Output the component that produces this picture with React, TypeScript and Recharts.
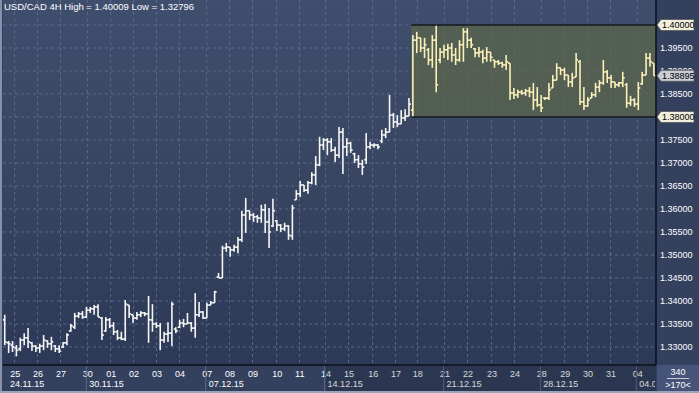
import React from "react";
import {
  ComposedChart, Bar, XAxis, YAxis, CartesianGrid, ReferenceArea, ReferenceLine,
} from "recharts";

// USD/CAD 4H bars, 24.11.15 - 04.01.16
const highs = [
  1.3370, 1.3313, 1.3313, 1.3304, 1.3320, 1.3330, 1.3341, 1.3311, 1.3304, 1.3307,
  1.3326, 1.3315, 1.3322, 1.3304, 1.3304, 1.3311, 1.3330, 1.3350, 1.3374, 1.3376,
  1.3378, 1.3387, 1.3387, 1.3391, 1.3393, 1.3365, 1.3365, 1.3363, 1.3354, 1.3337,
  1.3333, 1.3402, 1.3391, 1.3370, 1.3376, 1.3378, 1.3376, 1.3411, 1.3393, 1.3354,
  1.3352, 1.3333, 1.3354, 1.3398, 1.3343, 1.3359, 1.3361, 1.3374, 1.3354, 1.3417,
  1.3398, 1.3378, 1.3396, 1.3400, 1.3422, 1.3461, 1.3520, 1.3526, 1.3517, 1.3522,
  1.3539, 1.3596, 1.3624, 1.3596, 1.3591, 1.3587, 1.3609, 1.3611, 1.3602, 1.3622,
  1.3576, 1.3567, 1.3570, 1.3565, 1.3609, 1.3641, 1.3661, 1.3652, 1.3661, 1.3680,
  1.3715, 1.3757, 1.3754, 1.3754, 1.3754, 1.3735, 1.3778, 1.3776, 1.3754, 1.3746,
  1.3722, 1.3717, 1.3707, 1.3765, 1.3746, 1.3743, 1.3741, 1.3772, 1.3776, 1.3848,
  1.3809, 1.3804, 1.3815, 1.3817, 1.3841, 1.3978, 1.3985, 1.3972, 1.3972, 1.3950,
  1.3978, 1.40009, 1.3950, 1.3957, 1.3959, 1.3961, 1.3950, 1.3967, 1.3993, 1.3993,
  1.3972, 1.3950, 1.3952, 1.3946, 1.3952, 1.3941, 1.3924, 1.3924, 1.3920, 1.3935,
  1.3917, 1.3863, 1.3859, 1.3859, 1.3861, 1.3865, 1.3874, 1.3865, 1.3848, 1.3843,
  1.3874, 1.3891, 1.3917, 1.3907, 1.3907, 1.3891, 1.3896, 1.3939, 1.3924, 1.3865,
  1.3843, 1.3854, 1.3874, 1.3880, 1.3924, 1.3902, 1.3891, 1.3876, 1.3876, 1.3898,
  1.3874, 1.3846, 1.3841, 1.3876, 1.3898, 1.3939, 1.3939, 1.3917,
];
const lows = [
  1.3304, 1.3287, 1.3289, 1.32796, 1.3291, 1.3304, 1.3298, 1.3291, 1.3289, 1.3287,
  1.3293, 1.3298, 1.3293, 1.3289, 1.3287, 1.3298, 1.3304, 1.3333, 1.3339, 1.3363,
  1.3361, 1.3363, 1.3374, 1.3370, 1.3365, 1.3315, 1.3333, 1.3341, 1.3326, 1.3315,
  1.3315, 1.3313, 1.3363, 1.3352, 1.3359, 1.3365, 1.3367, 1.3309, 1.3333, 1.3341,
  1.3293, 1.3309, 1.3311, 1.3302, 1.3330, 1.3341, 1.3343, 1.3350, 1.3333, 1.3320,
  1.3365, 1.3361, 1.3363, 1.3391, 1.3396, 1.3450, 1.3450, 1.3507, 1.3496, 1.3507,
  1.3504, 1.3528, 1.3548, 1.3576, 1.3572, 1.3570, 1.3570, 1.3548, 1.3515, 1.3561,
  1.3552, 1.3550, 1.3552, 1.3533, 1.3533, 1.3620, 1.3626, 1.3637, 1.3633, 1.3654,
  1.3652, 1.3693, 1.3728, 1.3717, 1.3724, 1.3702, 1.3711, 1.3676, 1.3715, 1.3722,
  1.3700, 1.3689, 1.3674, 1.3698, 1.3730, 1.3733, 1.3730, 1.3743, 1.3754, 1.3767,
  1.3776, 1.3778, 1.3785, 1.3791, 1.3802, 1.3800, 1.3939, 1.3941, 1.3928, 1.3913,
  1.3907, 1.3854, 1.3917, 1.3928, 1.3924, 1.3920, 1.3913, 1.3920, 1.3920, 1.3950,
  1.3950, 1.3930, 1.3930, 1.3917, 1.3920, 1.3920, 1.3907, 1.3913, 1.3907, 1.3902,
  1.3837, 1.3839, 1.3841, 1.3848, 1.3846, 1.3843, 1.3815, 1.3822, 1.3811, 1.3837,
  1.3837, 1.3863, 1.3880, 1.3891, 1.3880, 1.3865, 1.3865, 1.3887, 1.3826, 1.3815,
  1.3822, 1.3841, 1.3843, 1.3854, 1.3870, 1.3874, 1.3863, 1.3863, 1.3865, 1.3865,
  1.3820, 1.3824, 1.3822, 1.3815, 1.3870, 1.3891, 1.3909, 1.38895,
];
const opens = [
  1.3359, 1.3309, 1.3304, 1.3298, 1.3296, 1.3315, 1.3320, 1.3309, 1.3302, 1.3298,
  1.3302, 1.3313, 1.3307, 1.3302, 1.3296, 1.3300, 1.3309, 1.3335, 1.3343, 1.3367,
  1.3372, 1.3365, 1.3380, 1.3383, 1.3387, 1.3363, 1.3335, 1.3359, 1.3346, 1.3333,
  1.3320, 1.3317, 1.3391, 1.3370, 1.3363, 1.3370, 1.3374, 1.3372, 1.3359, 1.3350,
  1.3346, 1.3315, 1.3328, 1.3330, 1.3339, 1.3343, 1.3352, 1.3350, 1.3352, 1.3341,
  1.3370, 1.3376, 1.3363, 1.3391, 1.3396, 1.3452, 1.3450, 1.3515, 1.3517, 1.3511,
  1.3517, 1.3533, 1.3587, 1.3596, 1.3587, 1.3583, 1.3580, 1.3598, 1.3572, 1.3563,
  1.3574, 1.3565, 1.3557, 1.3563, 1.3541, 1.3620, 1.3633, 1.3652, 1.3641, 1.3657,
  1.3674, 1.3696, 1.3739, 1.3750, 1.3746, 1.3728, 1.3717, 1.3767, 1.3735, 1.3743,
  1.3720, 1.3707, 1.3698, 1.3707, 1.3735, 1.3739, 1.3739, 1.3748, 1.3761, 1.3767,
  1.3804, 1.3789, 1.3785, 1.3798, 1.3802, 1.3815, 1.3967, 1.3972, 1.3950, 1.3946,
  1.3924, 1.3967, 1.3924, 1.3941, 1.3946, 1.3950, 1.3935, 1.3924, 1.3957, 1.3985,
  1.3967, 1.3948, 1.3939, 1.3941, 1.3928, 1.3941, 1.3924, 1.3920, 1.3917, 1.3913,
  1.3917, 1.3852, 1.3848, 1.3854, 1.3852, 1.3857, 1.3854, 1.3837, 1.3826, 1.3841,
  1.3841, 1.3863, 1.3880, 1.3907, 1.3902, 1.3891, 1.3876, 1.3887, 1.3920, 1.3833,
  1.3824, 1.3841, 1.3848, 1.3865, 1.3874, 1.3898, 1.3885, 1.3876, 1.3870, 1.3874,
  1.3870, 1.3830, 1.3837, 1.3828, 1.3872, 1.3891, 1.3928, 1.3917,
];
const closes = [
  1.3311, 1.3307, 1.3300, 1.3293, 1.3315, 1.3320, 1.3311, 1.3302, 1.3298, 1.3302,
  1.3315, 1.3307, 1.3311, 1.3296, 1.3291, 1.3309, 1.3326, 1.3346, 1.3367, 1.3372,
  1.3365, 1.3380, 1.3383, 1.3387, 1.3365, 1.3326, 1.3359, 1.3346, 1.3333, 1.3320,
  1.3317, 1.3393, 1.3372, 1.3363, 1.3370, 1.3374, 1.3372, 1.3359, 1.3350, 1.3346,
  1.3315, 1.3328, 1.3330, 1.3393, 1.3335, 1.3352, 1.3350, 1.3352, 1.3341, 1.3370,
  1.3376, 1.3363, 1.3391, 1.3396, 1.3420, 1.3450, 1.3515, 1.3517, 1.3511, 1.3517,
  1.3533, 1.3587, 1.3596, 1.3587, 1.3583, 1.3580, 1.3598, 1.3572, 1.3550, 1.3596,
  1.3565, 1.3557, 1.3563, 1.3543, 1.3602, 1.3633, 1.3652, 1.3641, 1.3657, 1.3674,
  1.3696, 1.3739, 1.3750, 1.3746, 1.3728, 1.3717, 1.3767, 1.3735, 1.3743, 1.3728,
  1.3707, 1.3698, 1.3691, 1.3735, 1.3739, 1.3739, 1.3735, 1.3761, 1.3767, 1.3804,
  1.3789, 1.3785, 1.3798, 1.3802, 1.3828, 1.3967, 1.3972, 1.3950, 1.3957, 1.3924,
  1.3967, 1.3870, 1.3941, 1.3946, 1.3950, 1.3935, 1.3924, 1.3957, 1.3985, 1.3967,
  1.3957, 1.3939, 1.3941, 1.3928, 1.3941, 1.3930, 1.3920, 1.3917, 1.3913, 1.3920,
  1.3852, 1.3848, 1.3854, 1.3852, 1.3857, 1.3854, 1.3837, 1.3826, 1.3820, 1.3841,
  1.3859, 1.3880, 1.3907, 1.3902, 1.3891, 1.3876, 1.3885, 1.3924, 1.3833, 1.3824,
  1.3837, 1.3848, 1.3865, 1.3874, 1.3898, 1.3885, 1.3876, 1.3870, 1.3874, 1.3885,
  1.3830, 1.3837, 1.3828, 1.3863, 1.3891, 1.3928, 1.3920, 1.38895,
];

// day labels and where they sit (bar index)
const dayLabels = ["25", "26", "27", "30", "01", "02", "03", "04", "07", "08", "09", "10", "11", "14",
  "15", "16", "17", "18", "21", "22", "23", "24", "28", "29", "30", "31", "04"];
const dayPos = [2.5, 8.4, 14.3, 21.2, 27.2, 33.1, 39.0, 44.9, 51.9, 57.8, 63.7, 69.9, 75.8, 82.5,
  88.4, 94.6, 100.5, 106.1, 113.1, 119.0, 125.2, 131.1, 138.0, 144.0, 149.9, 155.8, 162.7];
const weekLabels = ["24.11.15", "30.11.15", "07.12.15", "14.12.15", "21.12.15", "28.12.15", "04.01.16"];
const weekPos = [-0.5, 21.2, 51.9, 82.5, 113.1, 138.0, 162.7];

const gridPrices = [1.33, 1.335, 1.34, 1.345, 1.35, 1.355, 1.36, 1.365, 1.37, 1.375, 1.38, 1.385, 1.39, 1.395, 1.4];
const axisPrices = [1.33, 1.335, 1.34, 1.345, 1.35, 1.355, 1.36, 1.365, 1.37, 1.375, 1.385, 1.39, 1.395, 1.4, 1.38, 1.38895];

const rangeHigh = 1.4;
const rangeLow = 1.38;
const lastClose = 1.38895;
const rangeStart = 104.5;

const data = highs.map((h, i) => ({
  i, o: opens[i], h, l: lows[i], c: closes[i], range: [lows[i], h],
}));

const FONT = "'Liberation Sans', Arial, sans-serif";

const OhlcBar = (props: any) => {
  const { x, y, width, height, payload } = props;
  const cx = x + width / 2;
  const top = Math.min(y, y + height);
  const span = Math.abs(height);
  const k = payload.h - payload.l || 1;
  const oy = top + ((payload.h - payload.o) / k) * span;
  const cy = top + ((payload.h - payload.c) / k) * span;
  const col = payload.i > rangeStart ? "#fbf1b8" : "#f6f6f6";
  return (
    <g>
      <line x1={cx} x2={cx} y1={top} y2={top + Math.max(span, 1)} stroke={col} strokeWidth={1.6} />
      <line x1={cx - 2} x2={cx} y1={oy} y2={oy} stroke={col} strokeWidth={1.6} />
      <line x1={cx} x2={cx + 2} y1={cy} y2={cy} stroke={col} strokeWidth={1.6} />
    </g>
  );
};

const PriceTick = ({ y, payload }: any) => {
  const v = payload.value;
  const marked = v === rangeHigh || v === rangeLow || v === lastClose;
  if (!marked) {
    return <text x={660} y={y + 3.5} fill="#fff" fontSize={9} fontFamily={FONT}>{v.toFixed(5)}</text>;
  }
  const bg = v === lastClose ? "#c9cdd6" : "#f1f0df";
  return (
    <g>
      <polygon
        points={`657,${y} 661,${y - 5.5} 694,${y - 5.5} 694,${y + 5.5} 661,${y + 5.5}`}
        fill={bg} stroke="#555" strokeWidth={0.8}
      />
      <text x={662} y={y + 3.5} fill="#000" fontSize={9} fontFamily={FONT}>{v.toFixed(5)}</text>
    </g>
  );
};

const DayTick = ({ x, payload }: any) => {
  const idx = dayPos.indexOf(payload.value);
  return <text x={x - 4.5} y={377} fill="#fff" fontSize={9} fontFamily={FONT}>{dayLabels[idx]}</text>;
};

const WeekTick = ({ x, payload }: any) => {
  const idx = weekPos.indexOf(payload.value);
  const first = idx === 0;
  return (
    <g>
      {!first && <line x1={x - 1} x2={x - 1} y1={366} y2={391} stroke="#5b6a88" />}
      <svg x={0} y={360} width={655} height={33}>
        <text x={first ? 10 : x + 2} y={27} fill="#fff" fontSize={9} fontFamily={FONT}>{weekLabels[idx]}</text>
      </svg>
    </g>
  );
};

export default function App() {
  return (
    <div style={{ position: "fixed", left: 0, top: 0, width: 699, height: 393, background: "#33405e", overflow: "hidden", fontFamily: FONT }}>
      <div style={{ position: "absolute", left: 3, top: 0, width: 653, height: 365, background: "linear-gradient(180deg, #404e6e 0%, #36445f 55%, #2c3957 100%)" }} />
      <div style={{ position: "absolute", left: 0, top: 0 }}>
        <ComposedChart width={699} height={393} data={data} margin={{ top: 0, right: 0, left: 3, bottom: 0 }}>
          <CartesianGrid
            stroke="#62729a" strokeDasharray="3 3" strokeOpacity={0.8}
            horizontalValues={gridPrices} verticalValues={dayPos}
          />
          <ReferenceArea x1={rangeStart} x2={167.5} y1={rangeLow} y2={rangeHigh} fill="#5c664c" fillOpacity={0.75} stroke="none" ifOverflow="visible" />
          <XAxis
            type="number" dataKey="i" domain={[-0.5, 167.5]} allowDataOverflow
            ticks={dayPos} interval={0} tickLine={false} height={14}
            axisLine={{ stroke: "#0c0f18", strokeWidth: 1.5 }} tick={<DayTick />}
          />
          <XAxis
            xAxisId="w" type="number" dataKey="i" domain={[-0.5, 167.5]} allowDataOverflow
            ticks={weekPos} interval={0} tickLine={false} axisLine={false} height={14} tick={<WeekTick />}
          />
          <YAxis
            orientation="right" type="number" domain={[1.32608, 1.40543]} allowDataOverflow
            ticks={axisPrices} interval={0} width={43} tickLine={false}
            axisLine={{ stroke: "#0c0f18", strokeWidth: 1.5 }} tick={<PriceTick />}
          />
          <ReferenceLine segment={[{ x: rangeStart, y: rangeHigh }, { x: 167.5, y: rangeHigh }]} stroke="#15171a" strokeWidth={1.5} />
          <ReferenceLine segment={[{ x: rangeStart, y: rangeLow }, { x: 167.5, y: rangeLow }]} stroke="#15171a" strokeWidth={1.5} />
          <Bar dataKey="range" barSize={4} isAnimationActive={false} shape={(p: any) => <OhlcBar {...p} />} />
        </ComposedChart>
      </div>
      <div style={{ position: "absolute", left: 326, top: 366, width: 330, height: 25, background: "rgba(10,14,24,0.18)" }} />
      <div style={{ position: "absolute", left: 4, top: 1, color: "#fff", fontSize: 9.5, whiteSpace: "nowrap" }}>
        USD/CAD 4H High = 1.40009 Low = 1.32796
      </div>
      <div style={{ position: "absolute", left: 657, top: 365, width: 42, height: 28, background: "#46547a", color: "#fff", fontSize: 9 }}>
        <div style={{ position: "absolute", left: 0, width: 42, top: 2, height: 10, lineHeight: "10px", textAlign: "center" }}>340</div>
        <div style={{ position: "absolute", left: 10, width: 22, top: 13, height: 1, background: "#c8ccd8" }} />
        <div style={{ position: "absolute", left: 0, width: 42, top: 15, height: 10, lineHeight: "10px", textAlign: "center" }}>&gt;170&lt;</div>
      </div>
      <div style={{ position: "absolute", left: 0, top: 0, width: 2, height: 393, background: "#8592aa" }} />
      <div style={{ position: "absolute", left: 0, top: 391, width: 699, height: 2, background: "#9aa4b8" }} />
    </div>
  );
}
